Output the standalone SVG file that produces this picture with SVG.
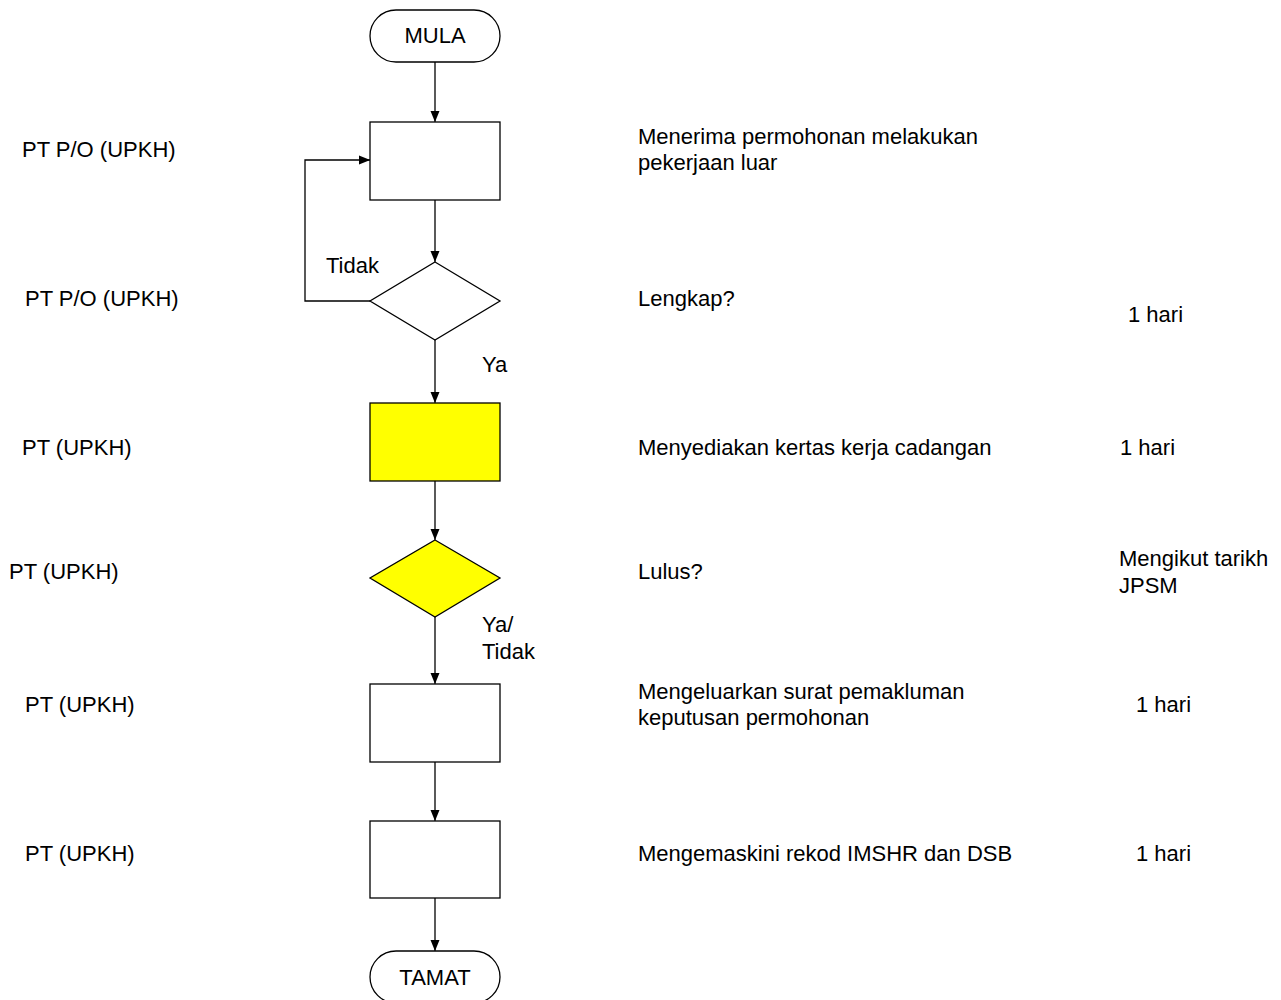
<svg xmlns="http://www.w3.org/2000/svg" width="1281" height="1000" viewBox="0 0 1281 1000">
<defs>
<marker id="ah" markerWidth="10" markerHeight="12" refX="11" refY="5" orient="auto" markerUnits="userSpaceOnUse">
<path d="M0,0.5 L11,5 L0,9.5 Z" fill="#000"/>
</marker>
<style>
.s{stroke:#000;stroke-width:1.3;fill:#fff}
.y{fill:#ffff00}
.t{font-family:"Liberation Sans",Arial,sans-serif;font-size:22px;fill:#000}
.c{text-anchor:middle}
.e{fill:none;stroke:#000;stroke-width:1.3;marker-end:url(#ah)}
</style>
</defs>
<rect width="1281" height="1000" fill="#fff"/>
<g id="connectors">
<path class="e" d="M435,62 V122"/>
<path class="e" d="M435,200 V262"/>
<path class="e" d="M370,301 H305 V160 H370"/>
<path class="e" d="M435,340 V403"/>
<path class="e" d="M435,481 V540"/>
<path class="e" d="M435,617 V684"/>
<path class="e" d="M435,762 V821"/>
<path class="e" d="M435,898 V951"/>
</g>
<g id="mula"><rect class="s" x="370" y="10" width="130" height="52" rx="26"/><text class="t c" x="435" y="43">MULA</text></g>
<g id="n1"><rect class="s" x="370" y="122" width="130" height="78"/></g>
<g id="d1"><polygon class="s" points="435,262 500,301 435,340 370,301"/></g>
<g id="n2"><rect class="s y" x="370" y="403" width="130" height="78"/></g>
<g id="d2"><polygon class="s y" points="435,540 500,578 435,617 370,578"/></g>
<g id="n3"><rect class="s" x="370" y="684" width="130" height="78"/></g>
<g id="n4"><rect class="s" x="370" y="821" width="130" height="77"/></g>
<g id="tamat"><rect class="s" x="370" y="951" width="130" height="52" rx="26"/><text class="t c" x="435" y="985">TAMAT</text></g>
<g id="labels">
<text class="t" x="326" y="273">Tidak</text>
<text class="t" x="482" y="372">Ya</text>
<text class="t" x="482" y="632">Ya/</text>
<text class="t" x="482" y="659">Tidak</text>
<text class="t" x="22" y="157">PT P/O (UPKH)</text>
<text class="t" x="25" y="306">PT P/O (UPKH)</text>
<text class="t" x="22" y="455">PT (UPKH)</text>
<text class="t" x="9" y="579">PT (UPKH)</text>
<text class="t" x="25" y="712">PT (UPKH)</text>
<text class="t" x="25" y="861">PT (UPKH)</text>
<text class="t" x="638" y="144">Menerima permohonan melakukan</text>
<text class="t" x="638" y="170">pekerjaan luar</text>
<text class="t" x="638" y="306">Lengkap?</text>
<text class="t" x="638" y="455">Menyediakan kertas kerja cadangan</text>
<text class="t" x="638" y="579">Lulus?</text>
<text class="t" x="638" y="699">Mengeluarkan surat pemakluman</text>
<text class="t" x="638" y="725">keputusan permohonan</text>
<text class="t" x="638" y="861">Mengemaskini rekod IMSHR dan DSB</text>
<text class="t" x="1128" y="322">1 hari</text>
<text class="t" x="1120" y="455">1 hari</text>
<text class="t" x="1119" y="566">Mengikut tarikh</text>
<text class="t" x="1119" y="593">JPSM</text>
<text class="t" x="1136" y="712">1 hari</text>
<text class="t" x="1136" y="861">1 hari</text>
</g>
</svg>
